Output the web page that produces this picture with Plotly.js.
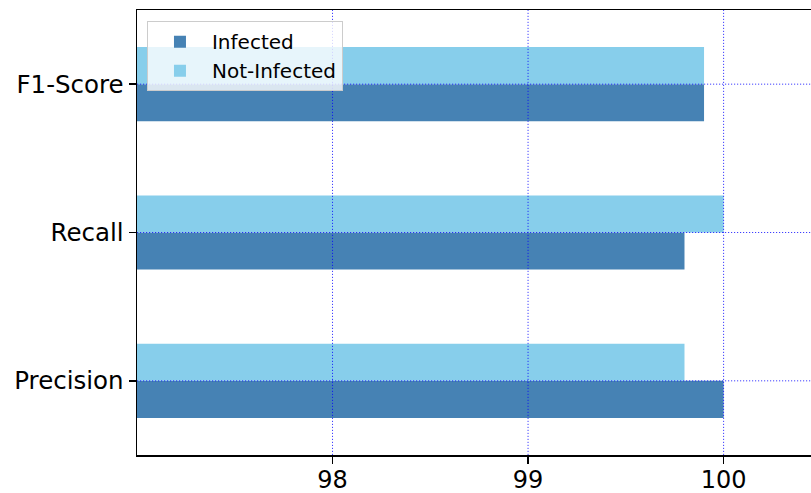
<!DOCTYPE html>
<html>
<head>
<meta charset="utf-8">
<script src="https://cdn.plot.ly/plotly-3.0.1.min.js"></script>
<style>html,body{margin:0;padding:0;overflow:hidden;background:#fff;}</style>
</head>
<body>
<div id="chart" style="width:811px;height:493px;"></div>
<script>
const categories = ["Precision", "Recall", "F1-Score"];
const infected = [100.0, 99.8, 99.9];
const notInfected = [99.8, 100.0, 99.9];
const xTicks = [98, 99, 100];
const xTickLabels = ["98", "99", "100"];

const gridStyle = {color: "rgba(0,0,255,0.75)", width: 1, dash: "1.2px,1.8px"};
const shapes = [];
xTicks.forEach(v => shapes.push({type: "line", layer: "above", xref: "x", yref: "paper",
  x0: v, x1: v, y0: 0, y1: 1, line: gridStyle}));
categories.forEach(c => shapes.push({type: "line", layer: "above", xref: "paper", yref: "y",
  x0: 0, x1: 1, y0: c, y1: c, line: gridStyle}));

const data = [
  {type: "bar", orientation: "h", name: "Infected", y: categories, x: infected,
   marker: {color: "#4682B4"}},
  {type: "bar", orientation: "h", name: "Not-Infected", y: categories, x: notInfected,
   marker: {color: "#87CEEB"}}
];

const layout = {
  width: 811, height: 493,
  margin: {l: 137, r: 0, t: 10, b: 38},
  paper_bgcolor: "#fff", plot_bgcolor: "#fff",
  font: {family: "DejaVu Sans", color: "#000", size: 24},
  barmode: "group", bargap: 0.5, bargroupgap: 0,
  showlegend: true,
  legend: {x: 0.0148, y: 0.975, xanchor: "left", yanchor: "top",
    bgcolor: "rgba(255,255,255,0.8)", bordercolor: "#cccccc", borderwidth: 1,
    font: {size: 20}, traceorder: "normal", itemwidth: 54},
  xaxis: {range: [97.0, 100.447], tickvals: xTicks, ticktext: xTickLabels,
    showgrid: false, zeroline: false, showline: true, linecolor: "#000", linewidth: 1.5,
    mirror: true, ticks: "outside", ticklen: 7, tickwidth: 1.5, tickcolor: "#000",
    ticklabelstandoff: -4, tickfont: {size: 24}, layer: "above traces"},
  yaxis: {type: "category", categoryarray: categories, range: [-0.5, 2.5],
    showgrid: false, zeroline: false, showline: true, linecolor: "#000", linewidth: 1.5,
    ticks: "outside", ticklen: 7, tickwidth: 1.5, tickcolor: "#000",
    tickfont: {size: 24.5}, layer: "above traces"},
  shapes: shapes
};

Plotly.newPlot("chart", data, layout, {displayModeBar: false, staticPlot: true});
</script>
</body>
</html>
